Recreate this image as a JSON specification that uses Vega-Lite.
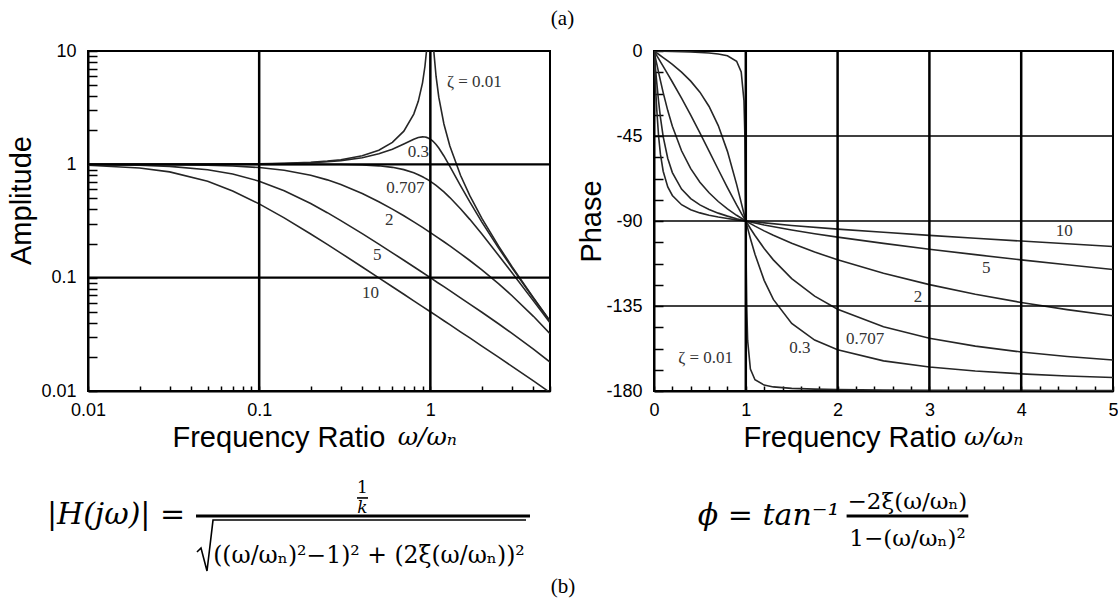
{
  "$schema": "https://vega.github.io/schema/vega-lite/v6.json",
  "padding": {"left": 6, "top": 8, "right": 0, "bottom": 0},
  "background": "white",
  "title": {"text": "(a)", "font": "Liberation Serif", "fontSize": 21, "fontWeight": "normal", "color": "black", "anchor": "middle", "offset": 12},
  "config": {
    "view": {"stroke": "black", "strokeWidth": 2},
    "axis": {
      "grid": false, "domain": true, "domainColor": "black", "domainWidth": 2,
      "tickColor": "black", "tickWidth": 1.5,
      "labelFont": "Liberation Sans", "labelFontSize": 18, "labelColor": "black", "labelOverlap": false, "labelFlush": false, "labelSeparation": 0,
      "titleFont": "Liberation Sans", "titleFontSize": 29, "titleFontWeight": "normal", "titleColor": "black"
    }
  },
  "datasets": {
    "amp": [
      {"z":"0.01","r":0.01,"a":1.0001},{"z":"0.01","r":0.02,"a":1.0004},{"z":"0.01","r":0.03,"a":1.0009},{"z":"0.01","r":0.05,"a":1.0025},{"z":"0.01","r":0.07,"a":1.0049},{"z":"0.01","r":0.1,"a":1.0101},{"z":"0.01","r":0.14,"a":1.02},{"z":"0.01","r":0.2,"a":1.0417},{"z":"0.01","r":0.25,"a":1.0667},{"z":"0.01","r":0.3,"a":1.0989},{"z":"0.01","r":0.4,"a":1.1905},{"z":"0.01","r":0.5,"a":1.3333},{"z":"0.01","r":0.6,"a":1.5625},{"z":"0.01","r":0.7,"a":1.9608},{"z":"0.01","r":0.8,"a":2.7778},{"z":"0.01","r":0.85,"a":3.5967},{"z":"0.01","r":0.9,"a":5.24},{"z":"0.01","r":0.93,"a":7.333},{"z":"0.01","r":0.95,"a":10.07},{"z":"0.01","r":0.97,"a":16.08},{"z":"0.01","r":1,"a":50},{"z":"0.01","r":1.03,"a":15.55},{"z":"0.01","r":1.05,"a":9.56},{"z":"0.01","r":1.08,"a":5.96},{"z":"0.01","r":1.12,"a":3.916},{"z":"0.01","r":1.2,"a":2.269},{"z":"0.01","r":1.3,"a":1.449},{"z":"0.01","r":1.5,"a":0.8},{"z":"0.01","r":1.7,"a":0.529},{"z":"0.01","r":2,"a":0.3333},{"z":"0.01","r":2.5,"a":0.1905},{"z":"0.01","r":3,"a":0.125},{"z":"0.01","r":4,"a":0.0667},{"z":"0.01","r":5,"a":0.04167},
      {"z":"0.3","r":0.01,"a":1.0001},{"z":"0.3","r":0.02,"a":1.0003},{"z":"0.3","r":0.03,"a":1.0007},{"z":"0.3","r":0.05,"a":1.0021},{"z":"0.3","r":0.07,"a":1.004},{"z":"0.3","r":0.1,"a":1.0083},{"z":"0.3","r":0.14,"a":1.0163},{"z":"0.3","r":0.2,"a":1.0336},{"z":"0.3","r":0.25,"a":1.0533},{"z":"0.3","r":0.3,"a":1.078},{"z":"0.3","r":0.4,"a":1.1447},{"z":"0.3","r":0.5,"a":1.238},{"z":"0.3","r":0.6,"a":1.3618},{"z":"0.3","r":0.7,"a":1.5136},{"z":"0.3","r":0.8,"a":1.6667},{"z":"0.3","r":0.85,"a":1.7223},{"z":"0.3","r":0.9,"a":1.7469},{"z":"0.3","r":0.93,"a":1.7418},{"z":"0.3","r":0.95,"a":1.7293},{"z":"0.3","r":0.97,"a":1.7094},{"z":"0.3","r":1,"a":1.6667},{"z":"0.3","r":1.03,"a":1.6103},{"z":"0.3","r":1.05,"a":1.5667},{"z":"0.3","r":1.08,"a":1.4947},{"z":"0.3","r":1.12,"a":1.3917},{"z":"0.3","r":1.2,"a":1.1851},{"z":"0.3","r":1.3,"a":0.9603},{"z":"0.3","r":1.5,"a":0.6492},{"z":"0.3","r":1.7,"a":0.4656},{"z":"0.3","r":2,"a":0.3095},{"z":"0.3","r":2.5,"a":0.1832},{"z":"0.3","r":3,"a":0.122},{"z":"0.3","r":4,"a":0.0658},{"z":"0.3","r":5,"a":0.0413},
      {"z":"0.707","r":0.01,"a":1},{"z":"0.707","r":0.05,"a":1},{"z":"0.707","r":0.1,"a":0.99995},{"z":"0.707","r":0.14,"a":0.9998},{"z":"0.707","r":0.2,"a":0.9992},{"z":"0.707","r":0.25,"a":0.998},{"z":"0.707","r":0.3,"a":0.996},{"z":"0.707","r":0.4,"a":0.9874},{"z":"0.707","r":0.5,"a":0.9701},{"z":"0.707","r":0.6,"a":0.9409},{"z":"0.707","r":0.7,"a":0.898},{"z":"0.707","r":0.8,"a":0.8422},{"z":"0.707","r":0.85,"a":0.8106},{"z":"0.707","r":0.9,"a":0.777},{"z":"0.707","r":0.93,"a":0.7563},{"z":"0.707","r":0.95,"a":0.7423},{"z":"0.707","r":0.97,"a":0.7283},{"z":"0.707","r":1,"a":0.7071},{"z":"0.707","r":1.03,"a":0.686},{"z":"0.707","r":1.05,"a":0.6718},{"z":"0.707","r":1.08,"a":0.6509},{"z":"0.707","r":1.12,"a":0.6234},{"z":"0.707","r":1.2,"a":0.5704},{"z":"0.707","r":1.3,"a":0.5092},{"z":"0.707","r":1.5,"a":0.4061},{"z":"0.707","r":1.7,"a":0.327},{"z":"0.707","r":2,"a":0.2425},{"z":"0.707","r":2.5,"a":0.158},{"z":"0.707","r":3,"a":0.1104},{"z":"0.707","r":4,"a":0.0624},{"z":"0.707","r":5,"a":0.04},
      {"z":"2","r":0.01,"a":0.9993},{"z":"2","r":0.02,"a":0.9972},{"z":"2","r":0.03,"a":0.9938},{"z":"2","r":0.05,"a":0.983},{"z":"2","r":0.07,"a":0.9674},{"z":"2","r":0.1,"a":0.9365},{"z":"2","r":0.14,"a":0.8857},{"z":"2","r":0.2,"a":0.8002},{"z":"2","r":0.25,"a":0.7295},{"z":"2","r":0.3,"a":0.664},{"z":"2","r":0.4,"a":0.5534},{"z":"2","r":0.5,"a":0.4682},{"z":"2","r":0.6,"a":0.4026},{"z":"2","r":0.7,"a":0.3514},{"z":"2","r":0.8,"a":0.3105},{"z":"2","r":0.9,"a":0.2774},{"z":"2","r":1,"a":0.25},{"z":"2","r":1.1,"a":0.2268},{"z":"2","r":1.2,"a":0.2075},{"z":"2","r":1.3,"a":0.1906},{"z":"2","r":1.5,"a":0.1632},{"z":"2","r":1.7,"a":0.1417},{"z":"2","r":2,"a":0.117},{"z":"2","r":2.5,"a":0.0885},{"z":"2","r":3,"a":0.0693},{"z":"2","r":4,"a":0.0456},{"z":"2","r":5,"a":0.032},
      {"z":"5","r":0.01,"a":0.9951},{"z":"5","r":0.02,"a":0.981},{"z":"5","r":0.03,"a":0.9586},{"z":"5","r":0.05,"a":0.8962},{"z":"5","r":0.07,"a":0.8219},{"z":"5","r":0.1,"a":0.7107},{"z":"5","r":0.14,"a":0.5851},{"z":"5","r":0.2,"a":0.4508},{"z":"5","r":0.25,"a":0.3745},{"z":"5","r":0.3,"a":0.319},{"z":"5","r":0.4,"a":0.2447},{"z":"5","r":0.5,"a":0.1978},{"z":"5","r":0.6,"a":0.1657},{"z":"5","r":0.7,"a":0.1425},{"z":"5","r":0.8,"a":0.1249},{"z":"5","r":0.9,"a":0.1111},{"z":"5","r":1,"a":0.1},{"z":"5","r":1.1,"a":0.0906},{"z":"5","r":1.2,"a":0.0833},{"z":"5","r":1.3,"a":0.0768},{"z":"5","r":1.5,"a":0.0664},{"z":"5","r":1.7,"a":0.0585},{"z":"5","r":2,"a":0.0495},{"z":"5","r":2.5,"a":0.0392},{"z":"5","r":3,"a":0.0322},{"z":"5","r":4,"a":0.0234},{"z":"5","r":5,"a":0.018},
      {"z":"10","r":0.01,"a":0.9807},{"z":"10","r":0.02,"a":0.9288},{"z":"10","r":0.03,"a":0.8581},{"z":"10","r":0.05,"a":0.708},{"z":"10","r":0.07,"a":0.5822},{"z":"10","r":0.1,"a":0.4481},{"z":"10","r":0.14,"a":0.3371},{"z":"10","r":0.2,"a":0.2431},{"z":"10","r":0.25,"a":0.1966},{"z":"10","r":0.3,"a":0.1648},{"z":"10","r":0.4,"a":0.1243},{"z":"10","r":0.5,"a":0.0997},{"z":"10","r":0.6,"a":0.0832},{"z":"10","r":0.7,"a":0.0714},{"z":"10","r":0.8,"a":0.0625},{"z":"10","r":0.9,"a":0.0556},{"z":"10","r":1,"a":0.05},{"z":"10","r":1.1,"a":0.0455},{"z":"10","r":1.2,"a":0.0417},{"z":"10","r":1.3,"a":0.0385},{"z":"10","r":1.5,"a":0.0333},{"z":"10","r":1.7,"a":0.0294},{"z":"10","r":2,"a":0.0249},{"z":"10","r":2.5,"a":0.0199},{"z":"10","r":3,"a":0.0165},{"z":"10","r":4,"a":0.0123},{"z":"10","r":5,"a":0.0097}
    ],
    "phase": [
      {"z":"0.01","r":0,"p":0},{"z":"0.01","r":0.1,"p":-0.12},{"z":"0.01","r":0.2,"p":-0.24},{"z":"0.01","r":0.3,"p":-0.38},{"z":"0.01","r":0.4,"p":-0.55},{"z":"0.01","r":0.5,"p":-0.76},{"z":"0.01","r":0.6,"p":-1.07},{"z":"0.01","r":0.7,"p":-1.57},{"z":"0.01","r":0.8,"p":-2.55},{"z":"0.01","r":0.9,"p":-5.41},{"z":"0.01","r":0.95,"p":-11.03},{"z":"0.01","r":0.98,"p":-26.33},{"z":"0.01","r":0.99,"p":-44.86},{"z":"0.01","r":0.995,"p":-63.38},{"z":"0.01","r":1,"p":-90},{"z":"0.01","r":1.005,"p":-116.51},{"z":"0.01","r":1.01,"p":-134.86},{"z":"0.01","r":1.02,"p":-153.21},{"z":"0.01","r":1.05,"p":-168.42},{"z":"0.01","r":1.1,"p":-174.02},{"z":"0.01","r":1.2,"p":-176.88},{"z":"0.01","r":1.3,"p":-177.84},{"z":"0.01","r":1.5,"p":-178.63},{"z":"0.01","r":1.75,"p":-179.03},{"z":"0.01","r":2,"p":-179.24},{"z":"0.01","r":2.5,"p":-179.45},{"z":"0.01","r":3,"p":-179.57},{"z":"0.01","r":3.5,"p":-179.64},{"z":"0.01","r":4,"p":-179.69},{"z":"0.01","r":4.5,"p":-179.73},{"z":"0.01","r":5,"p":-179.76},
      {"z":"0.3","r":0,"p":0},{"z":"0.3","r":0.02,"p":-0.69},{"z":"0.3","r":0.05,"p":-1.72},{"z":"0.3","r":0.1,"p":-3.47},{"z":"0.3","r":0.15,"p":-5.26},{"z":"0.3","r":0.2,"p":-7.13},{"z":"0.3","r":0.3,"p":-11.19},{"z":"0.3","r":0.4,"p":-15.95},{"z":"0.3","r":0.5,"p":-21.8},{"z":"0.3","r":0.6,"p":-29.36},{"z":"0.3","r":0.7,"p":-39.47},{"z":"0.3","r":0.8,"p":-53.13},{"z":"0.3","r":0.9,"p":-70.62},{"z":"0.3","r":0.95,"p":-80.29},{"z":"0.3","r":0.98,"p":-86.15},{"z":"0.3","r":1,"p":-90},{"z":"0.3","r":1.02,"p":-93.78},{"z":"0.3","r":1.05,"p":-99.24},{"z":"0.3","r":1.1,"p":-107.65},{"z":"0.3","r":1.2,"p":-121.43},{"z":"0.3","r":1.3,"p":-131.5},{"z":"0.3","r":1.5,"p":-144.25},{"z":"0.3","r":1.75,"p":-153.02},{"z":"0.3","r":2,"p":-158.2},{"z":"0.3","r":2.5,"p":-164.05},{"z":"0.3","r":3,"p":-167.32},{"z":"0.3","r":3.5,"p":-169.43},{"z":"0.3","r":4,"p":-170.91},{"z":"0.3","r":4.5,"p":-172.02},{"z":"0.3","r":5,"p":-172.88},
      {"z":"0.707","r":0,"p":0},{"z":"0.707","r":0.02,"p":-1.62},{"z":"0.707","r":0.05,"p":-4.05},{"z":"0.707","r":0.1,"p":-8.13},{"z":"0.707","r":0.15,"p":-12.24},{"z":"0.707","r":0.2,"p":-16.41},{"z":"0.707","r":0.3,"p":-24.99},{"z":"0.707","r":0.4,"p":-33.96},{"z":"0.707","r":0.5,"p":-43.31},{"z":"0.707","r":0.6,"p":-52.97},{"z":"0.707","r":0.7,"p":-62.74},{"z":"0.707","r":0.8,"p":-72.35},{"z":"0.707","r":0.9,"p":-81.51},{"z":"0.707","r":0.95,"p":-85.85},{"z":"0.707","r":1,"p":-90},{"z":"0.707","r":1.05,"p":-93.95},{"z":"0.707","r":1.1,"p":-97.69},{"z":"0.707","r":1.2,"p":-104.54},{"z":"0.707","r":1.3,"p":-110.58},{"z":"0.707","r":1.5,"p":-120.51},{"z":"0.707","r":1.75,"p":-129.81},{"z":"0.707","r":2,"p":-136.69},{"z":"0.707","r":2.5,"p":-146.04},{"z":"0.707","r":3,"p":-152.06},{"z":"0.707","r":3.5,"p":-156.25},{"z":"0.707","r":4,"p":-159.34},{"z":"0.707","r":4.5,"p":-161.71},{"z":"0.707","r":5,"p":-163.59},
      {"z":"2","r":0,"p":0},{"z":"2","r":0.01,"p":-2.29},{"z":"2","r":0.02,"p":-4.58},{"z":"2","r":0.03,"p":-6.85},{"z":"2","r":0.05,"p":-11.34},{"z":"2","r":0.07,"p":-15.72},{"z":"2","r":0.1,"p":-22.0},{"z":"2","r":0.15,"p":-31.54},{"z":"2","r":0.2,"p":-39.81},{"z":"2","r":0.3,"p":-52.83},{"z":"2","r":0.4,"p":-62.3},{"z":"2","r":0.5,"p":-69.44},{"z":"2","r":0.6,"p":-75.07},{"z":"2","r":0.7,"p":-79.68},{"z":"2","r":0.8,"p":-83.58},{"z":"2","r":0.9,"p":-86.98},{"z":"2","r":1,"p":-90},{"z":"2","r":1.1,"p":-92.73},{"z":"2","r":1.2,"p":-95.24},{"z":"2","r":1.3,"p":-97.56},{"z":"2","r":1.5,"p":-101.77},{"z":"2","r":1.75,"p":-106.42},{"z":"2","r":2,"p":-110.56},{"z":"2","r":2.5,"p":-117.7},{"z":"2","r":3,"p":-123.69},{"z":"2","r":3.5,"p":-128.78},{"z":"2","r":4,"p":-133.15},{"z":"2","r":4.5,"p":-136.92},{"z":"2","r":5,"p":-140.19},
      {"z":"5","r":0,"p":0},{"z":"5","r":0.01,"p":-5.71},{"z":"5","r":0.02,"p":-11.31},{"z":"5","r":0.03,"p":-16.71},{"z":"5","r":0.05,"p":-26.62},{"z":"5","r":0.07,"p":-35.13},{"z":"5","r":0.1,"p":-45.29},{"z":"5","r":0.15,"p":-56.91},{"z":"5","r":0.2,"p":-64.36},{"z":"5","r":0.3,"p":-73.13},{"z":"5","r":0.4,"p":-78.14},{"z":"5","r":0.5,"p":-81.47},{"z":"5","r":0.6,"p":-83.91},{"z":"5","r":0.7,"p":-85.83},{"z":"5","r":0.8,"p":-87.42},{"z":"5","r":0.9,"p":-88.79},{"z":"5","r":1,"p":-90},{"z":"5","r":1.2,"p":-92.1},{"z":"5","r":1.5,"p":-94.76},{"z":"5","r":1.75,"p":-96.72},{"z":"5","r":2,"p":-98.53},{"z":"5","r":2.5,"p":-101.86},{"z":"5","r":3,"p":-104.93},{"z":"5","r":3.5,"p":-107.82},{"z":"5","r":4,"p":-110.56},{"z":"5","r":4.5,"p":-113.16},{"z":"5","r":5,"p":-115.64},
      {"z":"10","r":0,"p":0},{"z":"10","r":0.01,"p":-11.31},{"z":"10","r":0.02,"p":-21.81},{"z":"10","r":0.03,"p":-30.98},{"z":"10","r":0.05,"p":-45.07},{"z":"10","r":0.07,"p":-54.6},{"z":"10","r":0.1,"p":-63.66},{"z":"10","r":0.15,"p":-71.95},{"z":"10","r":0.2,"p":-76.5},{"z":"10","r":0.3,"p":-81.38},{"z":"10","r":0.4,"p":-84.01},{"z":"10","r":0.5,"p":-85.71},{"z":"10","r":0.6,"p":-86.95},{"z":"10","r":0.7,"p":-87.91},{"z":"10","r":0.8,"p":-88.71},{"z":"10","r":0.9,"p":-89.4},{"z":"10","r":1,"p":-90},{"z":"10","r":1.5,"p":-92.39},{"z":"10","r":2,"p":-94.29},{"z":"10","r":2.5,"p":-95.99},{"z":"10","r":3,"p":-97.59},{"z":"10","r":3.5,"p":-99.13},{"z":"10","r":4,"p":-100.62},{"z":"10","r":4.5,"p":-102.07},{"z":"10","r":5,"p":-103.5}
    ],
    "ampLabels": [
      {"t":"ζ = 0.01","r":1.807,"a":5.3},{"t":"0.3","r":0.851,"a":1.278},{"t":"0.707","r":0.715,"a":0.615},{"t":"2","r":0.576,"a":0.321},{"t":"5","r":0.49,"a":0.158},{"t":"10","r":0.447,"a":0.0734}
    ],
    "phaseLabels": [
      {"t":"10","r":4.47,"p":-95.5},{"t":"5","r":3.62,"p":-114.9},{"t":"2","r":2.875,"p":-130},{"t":"0.707","r":2.3,"p":-152.6},{"t":"0.3","r":1.59,"p":-157.4},{"t":"ζ = 0.01","r":0.563,"p":-162.7}
    ],
    "ampOmega": [{"t":"ω/ωₙ","r":0.96,"a":0.00334}],
    "phaseOmega": [{"t":"ω/ωₙ","r":3.7,"p":-208.6}],
    "eqLMain": [{"t":"|H(jω)| =","x":6.06,"y":41.5}],
    "eqLOne": [{"t":"1","x":59.42,"y":17.7}],
    "eqLK": [{"t":"k","x":59.42,"y":33.1}],
    "eqLDen": [{"t":"((ω/ωₙ)²−1)² + (2ξ(ω/ωₙ))²","x":60.82,"y":71.5}],
    "eqLB": [{"t":"(b)","x":102.81,"y":94.6}],
    "eqLBarThick": [{"x":23.38,"x2":95.67,"y":35.4}],
    "eqLBarThin": [{"x":58.23,"x2":60.61,"y":21.5}],
    "eqLRadical": [{"i":1,"x":23.59,"y":63.1},{"i":2,"x":24.46,"y":60.0},{"i":3,"x":25.76,"y":77.7},{"i":4,"x":27.06,"y":38.5},{"i":5,"x":94.81,"y":38.5}],
    "eqRMain": [{"t":"ϕ = tan⁻¹","x":25.0,"y":42.3}],
    "eqRFrac": [{"t":"−2ξ(ω/ωₙ)","x":55.22,"y":30.0},{"t":"1−(ω/ωₙ)²","x":55.22,"y":58.5}],
    "eqRBar": [{"x":41.96,"x2":68.48,"y":35.4}]
  },
  "columns": 2,
  "spacing": {"row": 79, "column": 104},
  "bounds": "flush",
  "concat": [
    {
      "width": 462, "height": 340,
      "layer": [
        {
          "data": {"name": "amp"},
          "mark": {"type": "line", "color": "#262626", "strokeWidth": 1.6, "clip": true},
          "encoding": {
            "x": {"field": "r", "type": "quantitative", "scale": {"type": "log", "domain": [0.01, 5], "nice": false},
              "axis": {"title": "Frequency Ratio", "values": [0.01,0.02,0.03,0.04,0.05,0.06,0.07,0.08,0.09,0.1,0.2,0.3,0.4,0.5,0.6,0.7,0.8,0.9,1,2,3,4,5],
                "labelExpr": "datum.value == 0.01 ? '0.01' : datum.value == 0.1 ? '0.1' : datum.value == 1 ? '1' : ''",
                "tickCount": 200, "labelOverlap": false, "tickSize": -5, "labelPadding": 15, "titlePadding": 4, "titleAlign": "left", "titleX": 84}},
            "y": {"field": "a", "type": "quantitative", "scale": {"type": "log", "domain": [0.01, 10], "nice": false},
              "axis": {"title": "Amplitude", "values": [0.01,0.02,0.03,0.04,0.05,0.06,0.07,0.08,0.09,0.1,0.2,0.3,0.4,0.5,0.6,0.7,0.8,0.9,1,2,3,4,5,6,7,8,9,10],
                "labelExpr": "datum.value == 0.01 ? '0.01' : datum.value == 0.1 ? '0.1' : datum.value == 1 ? '1' : datum.value == 10 ? '10' : ''",
                "tickCount": 200, "labelOverlap": false, "tickSize": -9, "labelPadding": 21, "titleBaseline": "middle", "titleAlign": "center", "titleX": -67, "titleY": 149}},
            "detail": {"field": "z", "type": "nominal"}
          }
        },
        {
          "data": {"values": [{"r":0.1},{"r":1}]},
          "mark": {"type": "rule", "color": "black", "strokeWidth": 2.5},
          "encoding": {"x": {"field": "r", "type": "quantitative", "scale": {"type": "log", "domain": [0.01, 5], "nice": false}}}
        },
        {
          "data": {"values": [{"a":1},{"a":0.1}]},
          "mark": {"type": "rule", "color": "black", "strokeWidth": 2.2},
          "encoding": {"y": {"field": "a", "type": "quantitative", "scale": {"type": "log", "domain": [0.01, 10], "nice": false}}}
        },
        {
          "data": {"name": "ampLabels"},
          "mark": {"type": "text", "font": "Liberation Serif", "fontSize": 17, "color": "#333333", "align": "center", "baseline": "middle"},
          "encoding": {
            "x": {"field": "r", "type": "quantitative", "scale": {"type": "log", "domain": [0.01, 5], "nice": false}},
            "y": {"field": "a", "type": "quantitative", "scale": {"type": "log", "domain": [0.01, 10], "nice": false}},
            "text": {"field": "t"}
          }
        },
        {
          "data": {"name": "ampOmega"},
          "mark": {"type": "text", "font": "DejaVu Serif", "fontStyle": "italic", "fontSize": 25, "color": "black", "align": "center", "baseline": "alphabetic"},
          "encoding": {
            "x": {"field": "r", "type": "quantitative", "scale": {"type": "log", "domain": [0.01, 5], "nice": false}},
            "y": {"field": "a", "type": "quantitative", "scale": {"type": "log", "domain": [0.01, 10], "nice": false}},
            "text": {"field": "t"}
          }
        }
      ]
    },
    {
      "width": 459, "height": 340,
      "layer": [
        {
          "data": {"name": "phase"},
          "mark": {"type": "line", "color": "#262626", "strokeWidth": 1.6, "clip": true},
          "encoding": {
            "x": {"field": "r", "type": "quantitative", "scale": {"domain": [0, 5], "nice": false},
              "axis": {"title": "Frequency Ratio", "values": [0,0.2,0.4,0.6,0.8,1,1.2,1.4,1.6,1.8,2,2.2,2.4,2.6,2.8,3,3.2,3.4,3.6,3.8,4,4.2,4.4,4.6,4.8,5],
                "labelExpr": "abs(datum.value - round(datum.value)) < 0.001 ? format(datum.value, 'd') : ''",
                "tickCount": 200, "labelOverlap": false, "tickSize": -5, "labelPadding": 15, "titlePadding": 4, "titleAlign": "left", "titleX": 89}},
            "y": {"field": "p", "type": "quantitative", "scale": {"domain": [-180, 0], "nice": false},
              "axis": {"title": "Phase", "values": [0,-11.25,-22.5,-33.75,-45,-56.25,-67.5,-78.75,-90,-101.25,-112.5,-123.75,-135,-146.25,-157.5,-168.75,-180],
                "labelExpr": "datum.value % 45 == 0 ? '' + datum.value : ''",
                "tickCount": 200, "labelOverlap": false, "tickSize": -9, "labelPadding": 21, "titleBaseline": "middle", "titleAlign": "center", "titleX": -63, "titleY": 170}},
            "detail": {"field": "z", "type": "nominal"}
          }
        },
        {
          "data": {"values": [{"r":1},{"r":2},{"r":3},{"r":4}]},
          "mark": {"type": "rule", "color": "black", "strokeWidth": 2.5},
          "encoding": {"x": {"field": "r", "type": "quantitative", "scale": {"domain": [0, 5], "nice": false}}}
        },
        {
          "data": {"values": [{"p":-45},{"p":-90},{"p":-135}]},
          "mark": {"type": "rule", "color": "black", "strokeWidth": 1.5},
          "encoding": {"y": {"field": "p", "type": "quantitative", "scale": {"domain": [-180, 0], "nice": false}}}
        },
        {
          "data": {"name": "phaseLabels"},
          "mark": {"type": "text", "font": "Liberation Serif", "fontSize": 17, "color": "#333333", "align": "center", "baseline": "middle"},
          "encoding": {
            "x": {"field": "r", "type": "quantitative", "scale": {"domain": [0, 5], "nice": false}},
            "y": {"field": "p", "type": "quantitative", "scale": {"domain": [-180, 0], "nice": false}},
            "text": {"field": "t"}
          }
        },
        {
          "data": {"name": "phaseOmega"},
          "mark": {"type": "text", "font": "DejaVu Serif", "fontStyle": "italic", "fontSize": 25, "color": "black", "align": "center", "baseline": "alphabetic"},
          "encoding": {
            "x": {"field": "r", "type": "quantitative", "scale": {"domain": [0, 5], "nice": false}},
            "y": {"field": "p", "type": "quantitative", "scale": {"domain": [-180, 0], "nice": false}},
            "text": {"field": "t"}
          }
        }
      ]
    },
    {
      "width": 462, "height": 130,
      "view": {"stroke": null},
      "encoding": {
        "x": {"field": "x", "type": "quantitative", "scale": {"domain": [0, 100], "nice": false, "zero": false}, "axis": null},
        "y": {"field": "y", "type": "quantitative", "scale": {"domain": [0, 100], "nice": false, "zero": false, "reverse": true}, "axis": null}
      },
      "layer": [
        {"data": {"name": "eqLBarThick"}, "mark": {"type": "rule", "color": "black", "strokeWidth": 3}, "encoding": {"x2": {"field": "x2"}}},
        {"data": {"name": "eqLBarThin"}, "mark": {"type": "rule", "color": "black", "strokeWidth": 1.6}, "encoding": {"x2": {"field": "x2"}}},
        {"data": {"name": "eqLRadical"}, "mark": {"type": "line", "color": "black", "strokeWidth": 1.6}, "encoding": {"order": {"field": "i"}}},
        {"data": {"name": "eqLMain"}, "mark": {"type": "text", "font": "DejaVu Serif", "fontStyle": "italic", "fontSize": 30, "color": "black", "align": "center", "baseline": "alphabetic"}, "encoding": {"text": {"field": "t"}}},
        {"data": {"name": "eqLOne"}, "mark": {"type": "text", "font": "DejaVu Serif", "fontSize": 17, "color": "black", "align": "center", "baseline": "alphabetic"}, "encoding": {"text": {"field": "t"}}},
        {"data": {"name": "eqLK"}, "mark": {"type": "text", "font": "DejaVu Serif", "fontStyle": "italic", "fontSize": 17, "color": "black", "align": "center", "baseline": "alphabetic"}, "encoding": {"text": {"field": "t"}}},
        {"data": {"name": "eqLDen"}, "mark": {"type": "text", "font": "DejaVu Serif", "fontSize": 23.5, "color": "black", "align": "center", "baseline": "alphabetic"}, "encoding": {"text": {"field": "t"}}},
        {"data": {"name": "eqLB"}, "mark": {"type": "text", "font": "Liberation Serif", "fontSize": 21, "color": "black", "align": "center", "baseline": "alphabetic"}, "encoding": {"text": {"field": "t"}}}
      ]
    },
    {
      "width": 459, "height": 130,
      "view": {"stroke": null},
      "encoding": {
        "x": {"field": "x", "type": "quantitative", "scale": {"domain": [0, 100], "nice": false, "zero": false}, "axis": null},
        "y": {"field": "y", "type": "quantitative", "scale": {"domain": [0, 100], "nice": false, "zero": false, "reverse": true}, "axis": null}
      },
      "layer": [
        {"data": {"name": "eqRBar"}, "mark": {"type": "rule", "color": "black", "strokeWidth": 3}, "encoding": {"x2": {"field": "x2"}}},
        {"data": {"name": "eqRMain"}, "mark": {"type": "text", "font": "DejaVu Serif", "fontStyle": "italic", "fontSize": 30, "color": "black", "align": "center", "baseline": "alphabetic"}, "encoding": {"text": {"field": "t"}}},
        {"data": {"name": "eqRFrac"}, "mark": {"type": "text", "font": "DejaVu Serif", "fontSize": 23, "color": "black", "align": "center", "baseline": "alphabetic"}, "encoding": {"text": {"field": "t"}}}
      ]
    }
  ]
}
